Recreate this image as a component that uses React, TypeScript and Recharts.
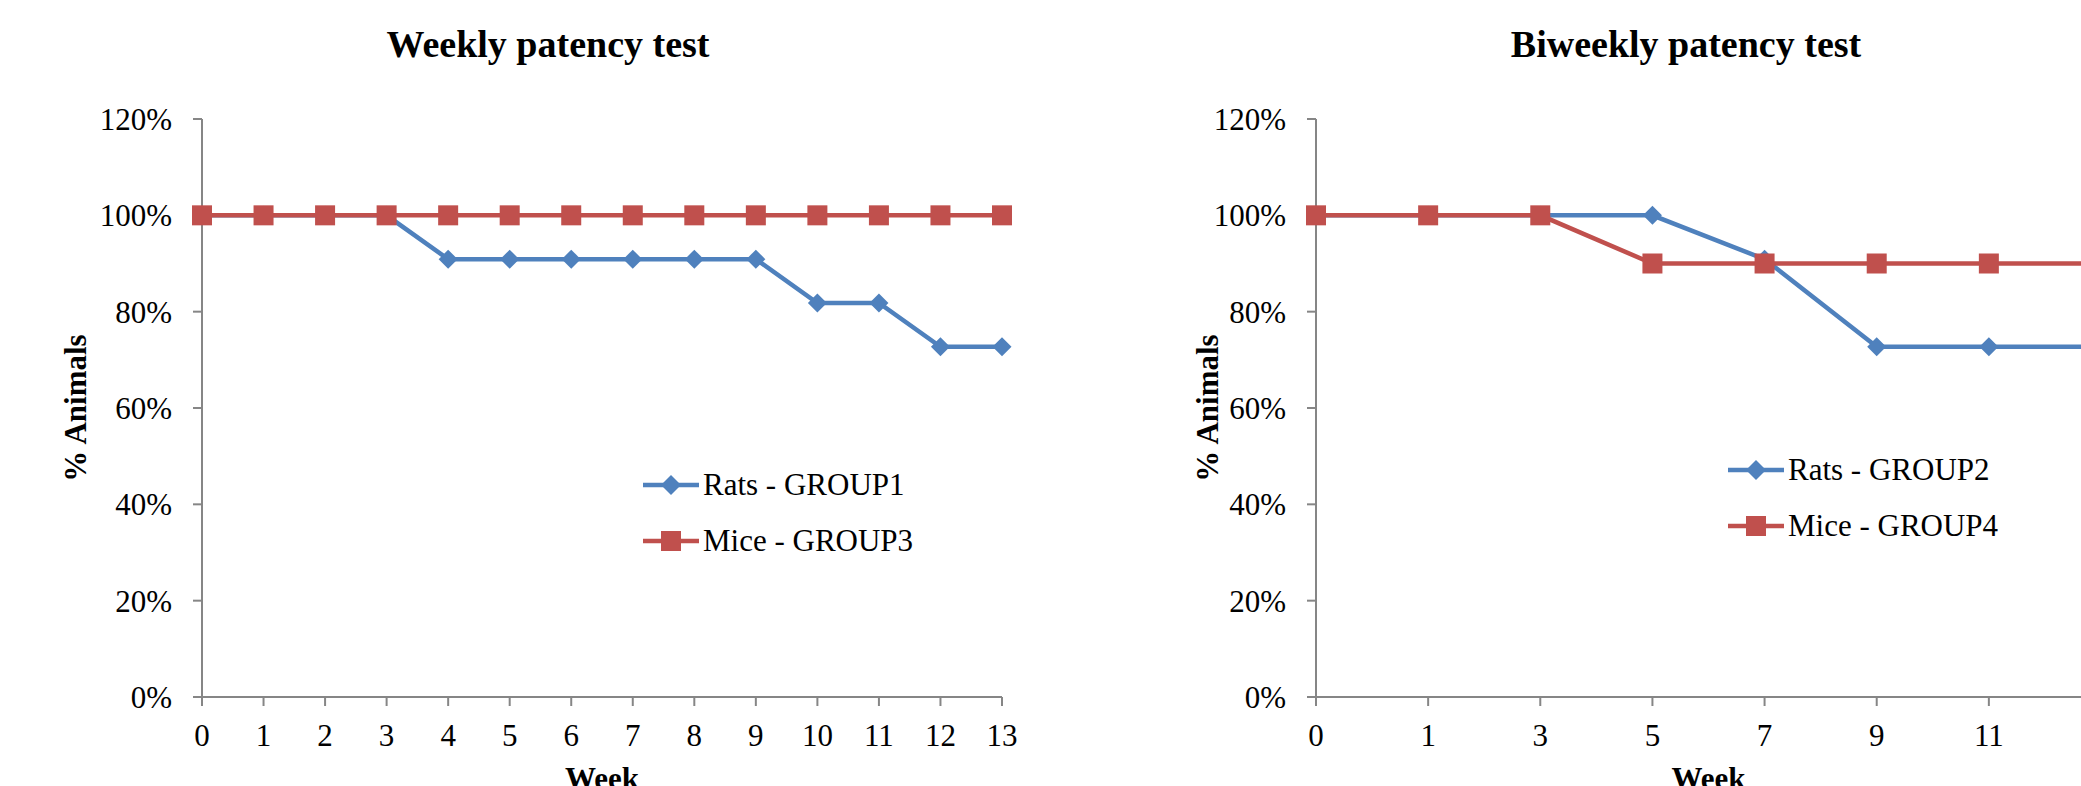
import { LineChart, Line, XAxis, YAxis, Legend } from 'recharts'

const weeklyWeeks = ['0', '1', '2', '3', '4', '5', '6', '7', '8', '9', '10', '11', '12', '13']
const ratsGroup1 = [100, 100, 100, 100, 90.9, 90.9, 90.9, 90.9, 90.9, 90.9, 81.8, 81.8, 72.7, 72.7]
const miceGroup3 = [100, 100, 100, 100, 100, 100, 100, 100, 100, 100, 100, 100, 100, 100]

const biweeklyWeeks = ['0', '1', '3', '5', '7', '9', '11', '13']
const ratsGroup2 = [100, 100, 100, 100, 90.9, 72.7, 72.7, 72.7]
const miceGroup4 = [100, 100, 100, 90, 90, 90, 90, 90]

const yTicks = [0, 20, 40, 60, 80, 100, 120]
const seriesOrder = ['rats', 'mice']

const BLUE = '#4f81bd'
const RED = '#c0504d'
const AXIS = '#868686'
const FONT = '"Liberation Serif", "Times New Roman", serif'

const weeklyData = weeklyWeeks.map((w, i) => ({ week: w, rats: ratsGroup1[i], mice: miceGroup3[i] }))
const biweeklyData = biweeklyWeeks.map((w, i) => ({ week: w, rats: ratsGroup2[i], mice: miceGroup4[i] }))

// eslint-disable-next-line @typescript-eslint/no-explicit-any
function Square({ cx, cy, color, size = 20 }: any) {
  if (cx == null || cy == null) return null
  return <rect x={cx - size / 2} y={cy - size / 2} width={size} height={size} fill={color} />
}

// eslint-disable-next-line @typescript-eslint/no-explicit-any
function Diamond({ cx, cy, color, size = 19 }: any) {
  if (cx == null || cy == null) return null
  const h = size / 2
  return <path d={`M${cx},${cy - h} L${cx + h},${cy} L${cx},${cy + h} L${cx - h},${cy} Z`} fill={color} />
}

// eslint-disable-next-line @typescript-eslint/no-explicit-any
function LegendBox({ payload }: any) {
  if (!payload?.length) return null
  const items = [...payload].sort(
    // eslint-disable-next-line @typescript-eslint/no-explicit-any
    (a: any, b: any) => seriesOrder.indexOf(a.dataKey) - seriesOrder.indexOf(b.dataKey),
  )
  return (
    <div style={{ fontFamily: FONT, fontSize: 31, color: '#000' }}>
      {/* eslint-disable-next-line @typescript-eslint/no-explicit-any */}
      {items.map((p: any) => (
        <div key={p.value} style={{ display: 'flex', alignItems: 'center', height: 56 }}>
          <svg width={56} height={24} style={{ marginRight: 4 }}>
            <line x1={0} y1={12} x2={56} y2={12} stroke={p.color} strokeWidth={4.5} strokeLinecap="round" />
            {p.dataKey === 'mice'
              ? <Square cx={28} cy={12} color={p.color} />
              : <Diamond cx={28} cy={12} color={p.color} size={20} />}
          </svg>
          <span style={{ whiteSpace: 'nowrap' }}>{p.value}</span>
        </div>
      ))}
    </div>
  )
}

const yLabel = (gap: number) =>
  // eslint-disable-next-line @typescript-eslint/no-explicit-any
  ({ viewBox }: any) => {
    const x = viewBox.x + viewBox.width - gap
    const y = viewBox.y + viewBox.height / 2
    return (
      <text x={x} y={y} transform={`rotate(-90, ${x}, ${y})`} textAnchor="middle" dy="0.35em"
        fontFamily={FONT} fontSize={31} fontWeight="bold" fill="#000">
        % Animals
      </text>
    )
  }

// eslint-disable-next-line @typescript-eslint/no-explicit-any
const xLabel = ({ viewBox }: any) => (
  <text x={viewBox.x + viewBox.width / 2} y={viewBox.y + 92} textAnchor="middle"
    fontFamily={FONT} fontSize={31} fontWeight="bold" fill="#000">
    Week
  </text>
)

const tickStyle = { fontSize: 31, fontFamily: FONT, fill: '#000' }

interface PanelProps {
  // eslint-disable-next-line @typescript-eslint/no-explicit-any
  data: any[]
  width: number
  left: number
  right: number
  labelGap: number
  legendLeft: number
  legendTop: number
  ratsName: string
  miceName: string
}

function Panel({ data, width, left, right, labelGap, legendLeft, legendTop, ratsName, miceName }: PanelProps) {
  return (
    <LineChart width={width} height={786} data={data} margin={{ top: 119, right, left, bottom: 29 }}>
      <XAxis
        dataKey="week"
        interval={0}
        height={60}
        stroke={AXIS}
        strokeWidth={2}
        tickSize={9}
        tickMargin={18}
        tick={tickStyle}
        label={xLabel}
      />
      <YAxis
        domain={[0, 120]}
        ticks={yTicks}
        width={100}
        stroke={AXIS}
        strokeWidth={2}
        tickSize={9}
        tickMargin={21}
        tick={tickStyle}
        tickFormatter={(v) => `${v}%`}
        label={yLabel(labelGap)}
      />
      <Legend
        layout="vertical"
        align="center"
        verticalAlign="middle"
        content={<LegendBox />}
        wrapperStyle={{ left: legendLeft, top: legendTop, width: 'auto', height: 'auto' }}
      />
      <Line
        name={ratsName}
        dataKey="rats"
        stroke={BLUE}
        strokeWidth={4.5}
        dot={<Diamond color={BLUE} />}
        activeDot={false}
        isAnimationActive={false}
      />
      <Line
        name={miceName}
        dataKey="mice"
        stroke={RED}
        strokeWidth={4.5}
        dot={<Square color={RED} />}
        activeDot={false}
        isAnimationActive={false}
      />
    </LineChart>
  )
}

const titleStyle = {
  position: 'absolute' as const,
  top: 25,
  fontFamily: FONT,
  fontSize: 38,
  lineHeight: '38px',
  fontWeight: 'bold' as const,
  textAlign: 'center' as const,
  width: 600,
  color: '#000',
}

export default function App() {
  return (
    <div style={{ position: 'fixed', left: 0, top: 0, width: 2081, height: 786, overflow: 'hidden', background: '#fff' }}>
      <div style={{ position: 'absolute', left: 0, top: 0 }}>
        <Panel data={weeklyData} width={1040} left={102} right={38} labelGap={127}
          legendLeft={643} legendTop={457} ratsName="Rats - GROUP1" miceName="Mice - GROUP3" />
      </div>
      <div style={{ position: 'absolute', left: 1040, top: 0 }}>
        <Panel data={biweeklyData} width={1101} left={176} right={40} labelGap={109}
          legendLeft={688} legendTop={442} ratsName="Rats - GROUP2" miceName="Mice - GROUP4" />
      </div>
      <div style={{ ...titleStyle, left: 548 - 300 }}>Weekly patency test</div>
      <div style={{ ...titleStyle, left: 1686 - 300 }}>Biweekly patency test</div>
    </div>
  )
}
